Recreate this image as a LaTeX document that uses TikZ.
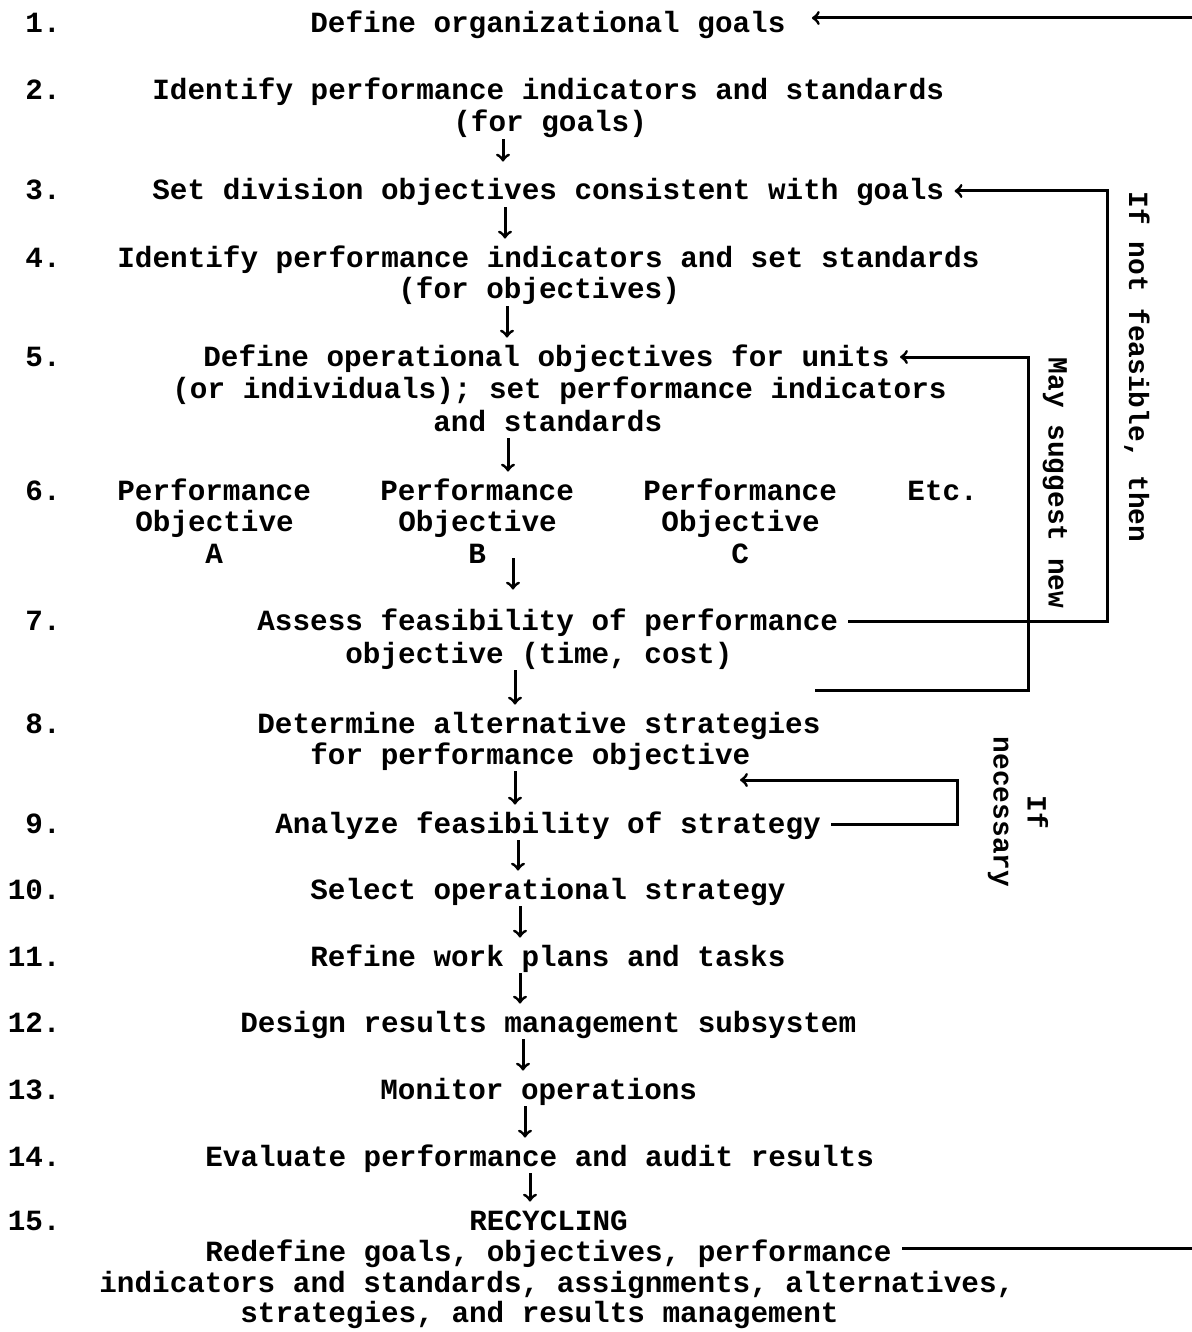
\documentclass[tikz,border=0pt]{standalone}
\usepackage{fontspec}
\newfontfamily\typer{Liberation Mono}
\begin{document}
\begin{tikzpicture}[x=0.5pt,y=-0.5pt,
  txt/.style={font=\typer\bfseries\fontsize{14.66pt}{16.25pt}\selectfont,inner sep=0pt,text height=11pt,text depth=2pt,anchor=base west},
  num/.style={txt,anchor=base east},
  side/.style={font=\typer\bfseries\fontsize{13.9pt}{17pt}\selectfont,rotate=-90,align=center,inner sep=0pt},
  flow/.style={->,line width=1.5pt,shorten <=1.5pt,shorten >=3pt},
  wire/.style={line width=1.5pt}]
\useasboundingbox (0,0) rectangle (1192,1332);
\node[num] (n1) at (61,33) {1.};
\node[num] (n2) at (61,100) {2.};
\node[num] (n3) at (61,200) {3.};
\node[num] (n4) at (61,267) {4.};
\node[num] (n5) at (61,366) {5.};
\node[num] (n6) at (61,500) {6.};
\node[num] (n7) at (61,630) {7.};
\node[num] (n8) at (61,733) {8.};
\node[num] (n9) at (61,833) {9.};
\node[num] (n10) at (61,899) {10.};
\node[num] (n11) at (61,966) {11.};
\node[num] (n12) at (61,1032) {12.};
\node[num] (n13) at (61,1099) {13.};
\node[num] (n14) at (61,1166) {14.};
\node[num] (n15) at (61,1230) {15.};
\node[txt] (l1) at (310,33) {Define organizational goals};
\node[txt] (l2a) at (152,100) {Identify performance indicators and standards};
\node[txt] (l2b) at (453,132) {(for goals)};
\node[txt] (l3) at (152,200) {Set division objectives consistent with goals};
\node[txt] (l4a) at (117,267) {Identify performance indicators and set standards};
\node[txt] (l4b) at (398,299) {(for objectives)};
\node[txt] (l5a) at (203,366) {Define operational objectives for units};
\node[txt] (l5b) at (172,398) {(or individuals); set performance indicators};
\node[txt] (l5c) at (433,431) {and standards};
\node[txt] (pa1) at (117,500) {Performance};
\node[txt] (pa2) at (135,531) {Objective};
\node[txt] (pa3) at (205,563) {A};
\node[txt] (pb1) at (380,500) {Performance};
\node[txt] (pb2) at (398,531) {Objective};
\node[txt] (pb3) at (468,563) {B};
\node[txt] (pc1) at (643,500) {Performance};
\node[txt] (pc2) at (661,531) {Objective};
\node[txt] (pc3) at (731,563) {C};
\node[txt] (etc) at (907,500) {Etc.};
\node[txt] (l7a) at (257,630) {Assess feasibility of performance};
\node[txt] (l7b) at (345,663) {objective (time, cost)};
\node[txt] (l8a) at (257,733) {Determine alternative strategies};
\node[txt] (l8b) at (310,764) {for performance objective};
\node[txt] (l9) at (275,833) {Analyze feasibility of strategy};
\node[txt] (l10) at (310,899) {Select operational strategy};
\node[txt] (l11) at (310,966) {Refine work plans and tasks};
\node[txt] (l12) at (240,1032) {Design results management subsystem};
\node[txt] (l13) at (380,1099) {Monitor operations};
\node[txt] (l14) at (205,1166) {Evaluate performance and audit results};
\node[txt] (l15a) at (469,1230) {RECYCLING};
\node[txt] (l15b) at (205,1261) {Redefine goals, objectives, performance};
\node[txt] (l15c) at (99,1292) {indicators and standards, assignments, alternatives,};
\node[txt] (l15d) at (240,1322) {strategies, and results management};
\node[side] (nf) at (1137,367) {If not feasible, then};
\node[side] (ms) at (1055,483) {May suggest new};
\node[side] (ifn) at (1018,812) {If\\necessary};
\draw[flow,shorten >=8pt] (l2b.south -| 503,0) -- (l3.north -| 503,0);
\draw[flow] (l3.south -| 505,0) -- (l4a.north -| 505,0);
\draw[flow] (l4b.south -| 507,0) -- (l5a.north -| 507,0);
\draw[flow] (l5c.south -| 508,0) -- (pb1.north -| 508,0);
\draw[flow,shorten <=-4.5pt,shorten >=9pt] (pb3.south -| 513,0) -- (l7a.north -| 513,0);
\draw[flow] (l7b.south -| 515,0) -- (l8a.north -| 515,0);
\draw[flow] (l8b.south -| 515,0) -- (l9.north -| 515,0);
\draw[flow] (l9.south -| 518,0) -- (l10.north -| 518,0);
\draw[flow] (l10.south -| 520,0) -- (l11.north -| 520,0);
\draw[flow] (l11.south -| 520,0) -- (l12.north -| 520,0);
\draw[flow] (l12.south -| 523,0) -- (l13.north -| 523,0);
\draw[flow] (l13.south -| 525,0) -- (l14.north -| 525,0);
\draw[flow] (l14.south -| 530,0) -- (l15a.north -| 530,0);
\coordinate (rt) at (1192,18);
\coordinate (rb) at (1192,1248);
\coordinate (fz) at (1107,400);
\coordinate (sg) at (1028,500);
\coordinate (sgb) at (815,690);
\coordinate (nc) at (957,780);
\coordinate (nt) at (740,780);
\draw[flow,shorten <=0pt,shorten >=13pt] (rt) -- (l1.east |- rt);
\draw[wire,shorten <=5pt] (l15b.east |- rb) -- (rb);
\draw[flow,shorten <=5pt,shorten >=5pt] (l7a.east) -| (fz) |- (l3.east);
\draw[flow,shorten <=0pt,shorten >=5pt] (sgb) -| (sg) |- (l5a.east);
\draw[flow,shorten <=5pt,shorten >=0pt] (l9.east) -| (nc) -- (nt);
\end{tikzpicture}
\end{document}
